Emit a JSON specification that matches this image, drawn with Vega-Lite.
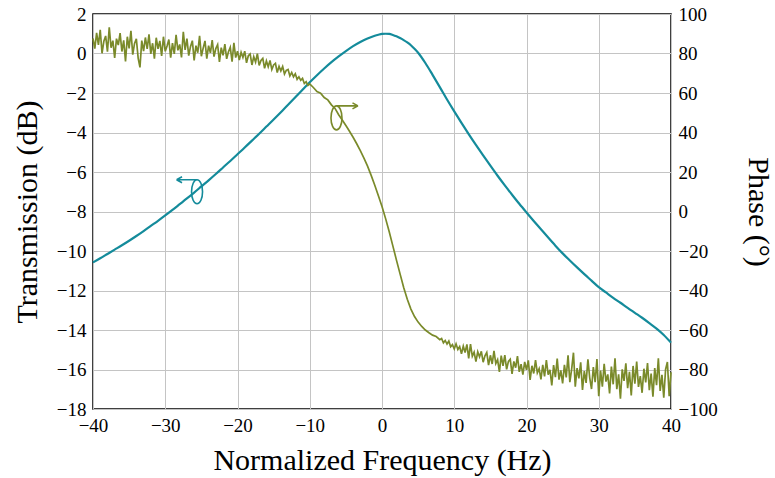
{
  "$schema": "https://vega.github.io/schema/vega-lite/v6.json",
  "width": 578,
  "height": 395,
  "autosize": {"type": "none"},
  "padding": {"left": 93, "top": 14, "right": 104, "bottom": 70},
  "background": "white",
  "config": {
    "font": "Liberation Serif",
    "view": {"stroke": "black", "strokeWidth": 1.5},
    "style": {
      "guide-label": {"font": "Liberation Serif", "fontSize": 19, "fill": "black"},
      "guide-title": {"font": "Liberation Serif", "fontSize": 30, "fontWeight": "normal", "fill": "black"}
    },
    "axis": {
      "ticks": false,
      "domain": false,
      "labelFont": "Liberation Serif",
      "labelFontSize": 19,
      "labelColor": "black",
      "labelPadding": 7,
      "labelFlush": false,
      "labelOverlap": false,
      "titleFont": "Liberation Serif",
      "titleFontSize": 30,
      "titleFontWeight": "normal",
      "titleColor": "black",
      "gridColor": "#c4c4c4",
      "gridWidth": 1
    }
  },
  "datasets": {
    "trans": [
      {"f": -40, "y": -10.58}, {"f": -39, "y": -10.37}, {"f": -38, "y": -10.15}, {"f": -37, "y": -9.93},
      {"f": -36, "y": -9.71}, {"f": -35, "y": -9.48}, {"f": -34, "y": -9.24}, {"f": -33, "y": -8.99},
      {"f": -32, "y": -8.73}, {"f": -31, "y": -8.47}, {"f": -30, "y": -8.2}, {"f": -29, "y": -7.92},
      {"f": -28, "y": -7.63}, {"f": -27, "y": -7.34}, {"f": -26, "y": -7.04}, {"f": -25, "y": -6.73},
      {"f": -24, "y": -6.42}, {"f": -23, "y": -6.1}, {"f": -22, "y": -5.77}, {"f": -21, "y": -5.44},
      {"f": -20, "y": -5.1}, {"f": -19, "y": -4.76}, {"f": -18, "y": -4.41}, {"f": -17, "y": -4.06},
      {"f": -16, "y": -3.7}, {"f": -15, "y": -3.34}, {"f": -14, "y": -2.97}, {"f": -13, "y": -2.6},
      {"f": -12, "y": -2.22}, {"f": -11, "y": -1.84}, {"f": -10, "y": -1.46}, {"f": -9, "y": -1.1},
      {"f": -8, "y": -0.76}, {"f": -7, "y": -0.44}, {"f": -6, "y": -0.15}, {"f": -5, "y": 0.12},
      {"f": -4, "y": 0.37}, {"f": -3, "y": 0.58}, {"f": -2, "y": 0.76}, {"f": -1, "y": 0.9},
      {"f": -0.5, "y": 0.95}, {"f": 0, "y": 0.99}, {"f": 0.5, "y": 1.0}, {"f": 1, "y": 0.99},
      {"f": 1.5, "y": 0.94}, {"f": 2, "y": 0.87}, {"f": 2.5, "y": 0.78}, {"f": 3, "y": 0.68},
      {"f": 3.5, "y": 0.56}, {"f": 4, "y": 0.42}, {"f": 4.5, "y": 0.24}, {"f": 5, "y": 0.04},
      {"f": 6, "y": -0.48}, {"f": 7, "y": -1.08}, {"f": 8, "y": -1.7}, {"f": 9, "y": -2.33},
      {"f": 10, "y": -2.93}, {"f": 11, "y": -3.51}, {"f": 12, "y": -4.08}, {"f": 13, "y": -4.63},
      {"f": 14, "y": -5.16}, {"f": 15, "y": -5.68}, {"f": 16, "y": -6.19}, {"f": 17, "y": -6.68},
      {"f": 18, "y": -7.15}, {"f": 19, "y": -7.61}, {"f": 20, "y": -8.05}, {"f": 21, "y": -8.48},
      {"f": 22, "y": -8.9}, {"f": 23, "y": -9.32}, {"f": 24, "y": -9.73}, {"f": 25, "y": -10.12},
      {"f": 26, "y": -10.48}, {"f": 27, "y": -10.83}, {"f": 28, "y": -11.17}, {"f": 29, "y": -11.5},
      {"f": 30, "y": -11.83}, {"f": 31, "y": -12.1}, {"f": 32, "y": -12.37}, {"f": 33, "y": -12.62},
      {"f": 34, "y": -12.88}, {"f": 35, "y": -13.13}, {"f": 36, "y": -13.38}, {"f": 37, "y": -13.65},
      {"f": 38, "y": -13.93}, {"f": 39, "y": -14.25}, {"f": 40, "y": -14.64}
    ],
    "phase": [
      {"f": -40, "y": 87.6}, {"f": -39.75, "y": 82.5}, {"f": -39.5, "y": 90.4}, {"f": -39.25, "y": 84.4},
      {"f": -39, "y": 92.0}, {"f": -38.75, "y": 80.1}, {"f": -38.5, "y": 86.2}, {"f": -38.25, "y": 88.9},
      {"f": -38, "y": 80.9}, {"f": -37.75, "y": 93.3}, {"f": -37.5, "y": 82.9}, {"f": -37.25, "y": 86.5},
      {"f": -37, "y": 77.8}, {"f": -36.75, "y": 87.5}, {"f": -36.5, "y": 84.3}, {"f": -36.25, "y": 90.3},
      {"f": -36, "y": 81.0}, {"f": -35.75, "y": 86.7}, {"f": -35.5, "y": 76.0}, {"f": -35.25, "y": 88.5},
      {"f": -35, "y": 82.6}, {"f": -34.75, "y": 91.5}, {"f": -34.5, "y": 79.4}, {"f": -34.25, "y": 85.1},
      {"f": -34, "y": 87.4}, {"f": -33.75, "y": 77.7}, {"f": -33.5, "y": 73.0}, {"f": -33.25, "y": 86.5},
      {"f": -33, "y": 81.2}, {"f": -32.75, "y": 88.1}, {"f": -32.5, "y": 82.3}, {"f": -32.25, "y": 89.7},
      {"f": -32, "y": 79.8}, {"f": -31.75, "y": 85.2}, {"f": -31.5, "y": 77.4}, {"f": -31.25, "y": 88.0},
      {"f": -31, "y": 82.4}, {"f": -30.75, "y": 86.4}, {"f": -30.5, "y": 78.8}, {"f": -30.25, "y": 88.5},
      {"f": -30, "y": 81.1}, {"f": -29.75, "y": 83.8}, {"f": -29.5, "y": 87.1}, {"f": -29.25, "y": 77.9},
      {"f": -29, "y": 85.3}, {"f": -28.75, "y": 79.8}, {"f": -28.5, "y": 89.4}, {"f": -28.25, "y": 81.6},
      {"f": -28, "y": 84.6}, {"f": -27.75, "y": 78.0}, {"f": -27.5, "y": 91.0}, {"f": -27.25, "y": 81.8},
      {"f": -27, "y": 87.5}, {"f": -26.75, "y": 78.9}, {"f": -26.5, "y": 83.6}, {"f": -26.25, "y": 86.5},
      {"f": -26, "y": 76.5}, {"f": -25.75, "y": 84.0}, {"f": -25.5, "y": 80.4}, {"f": -25.25, "y": 88.9},
      {"f": -25, "y": 78.6}, {"f": -24.75, "y": 82.7}, {"f": -24.5, "y": 86.4}, {"f": -24.25, "y": 77.4},
      {"f": -24, "y": 84.0}, {"f": -23.75, "y": 80.3}, {"f": -23.5, "y": 86.8}, {"f": -23.25, "y": 78.4},
      {"f": -23, "y": 82.5}, {"f": -22.75, "y": 84.5}, {"f": -22.5, "y": 75.8}, {"f": -22.25, "y": 83.0},
      {"f": -22, "y": 79.1}, {"f": -21.75, "y": 84.8}, {"f": -21.5, "y": 77.3}, {"f": -21.25, "y": 80.9},
      {"f": -21, "y": 83.1}, {"f": -20.75, "y": 75.9}, {"f": -20.5, "y": 85.4}, {"f": -20.25, "y": 77.9},
      {"f": -20, "y": 81.2}, {"f": -19.75, "y": 76.7}, {"f": -19.5, "y": 80.6}, {"f": -19.25, "y": 78.0},
      {"f": -19, "y": 81.2}, {"f": -18.75, "y": 75.3}, {"f": -18.5, "y": 78.9}, {"f": -18.25, "y": 79.8},
      {"f": -18, "y": 74.2}, {"f": -17.75, "y": 78.4}, {"f": -17.5, "y": 75.7}, {"f": -17.25, "y": 79.9},
      {"f": -17, "y": 74.0}, {"f": -16.75, "y": 76.5}, {"f": -16.5, "y": 77.5}, {"f": -16.25, "y": 72.5},
      {"f": -16, "y": 76.2}, {"f": -15.75, "y": 73.3}, {"f": -15.5, "y": 76.5}, {"f": -15.25, "y": 71.9},
      {"f": -15, "y": 74.2}, {"f": -14.75, "y": 75.0}, {"f": -14.5, "y": 70.4}, {"f": -14.25, "y": 73.5},
      {"f": -14, "y": 71.2}, {"f": -13.75, "y": 73.4}, {"f": -13.5, "y": 69.6}, {"f": -13.25, "y": 71.5},
      {"f": -13, "y": 71.9}, {"f": -12.75, "y": 68.6}, {"f": -12.5, "y": 70.4}, {"f": -12.25, "y": 68.2},
      {"f": -12, "y": 69.7}, {"f": -11.75, "y": 66.9}, {"f": -11.5, "y": 68.2}, {"f": -11.25, "y": 66.4},
      {"f": -11, "y": 67.4}, {"f": -10.75, "y": 64.8}, {"f": -10.5, "y": 65.7}, {"f": -10.25, "y": 63.8},
      {"f": -10, "y": 64.6}, {"f": -9.5, "y": 62.8}, {"f": -9, "y": 60.7}, {"f": -8.5, "y": 59.9},
      {"f": -8, "y": 57.7}, {"f": -7.5, "y": 56.5}, {"f": -7, "y": 54.0}, {"f": -6.5, "y": 52.2},
      {"f": -6, "y": 49.0}, {"f": -5.5, "y": 46.3}, {"f": -5, "y": 43.5}, {"f": -4.5, "y": 40.6},
      {"f": -4, "y": 37.6}, {"f": -3.5, "y": 34.3}, {"f": -3, "y": 30.8}, {"f": -2.5, "y": 27.0},
      {"f": -2, "y": 23.0}, {"f": -1.5, "y": 18.3}, {"f": -1, "y": 13.3}, {"f": -0.5, "y": 8.0},
      {"f": 0, "y": 2.5}, {"f": 0.5, "y": -3.6}, {"f": 1, "y": -10.3}, {"f": 1.5, "y": -17.4},
      {"f": 2, "y": -24.6}, {"f": 2.5, "y": -31.6}, {"f": 3, "y": -38.5}, {"f": 3.5, "y": -44.4},
      {"f": 4, "y": -49.4}, {"f": 4.5, "y": -53.2}, {"f": 5, "y": -56.0}, {"f": 5.5, "y": -58.2},
      {"f": 6, "y": -60.0}, {"f": 6.5, "y": -61.4}, {"f": 7, "y": -62.6}, {"f": 7.5, "y": -63.3},
      {"f": 8, "y": -64.9}, {"f": 8.25, "y": -64.3}, {"f": 8.5, "y": -66.5}, {"f": 8.75, "y": -65.3},
      {"f": 9, "y": -67.1}, {"f": 9.25, "y": -65.6}, {"f": 9.5, "y": -68.5}, {"f": 9.75, "y": -67.4},
      {"f": 10, "y": -69.6}, {"f": 10.25, "y": -67.0}, {"f": 10.5, "y": -69.9}, {"f": 10.75, "y": -68.4},
      {"f": 11, "y": -72.0}, {"f": 11.25, "y": -68.2}, {"f": 11.5, "y": -71.4}, {"f": 11.75, "y": -67.3},
      {"f": 12, "y": -74.4}, {"f": 12.25, "y": -67.1}, {"f": 12.5, "y": -73.3}, {"f": 12.75, "y": -71.2},
      {"f": 13, "y": -76.0}, {"f": 13.25, "y": -71.0}, {"f": 13.5, "y": -73.6}, {"f": 13.75, "y": -70.8},
      {"f": 14, "y": -76.3}, {"f": 14.25, "y": -73.1}, {"f": 14.5, "y": -71.4}, {"f": 14.75, "y": -77.8},
      {"f": 15, "y": -72.8}, {"f": 15.25, "y": -77.2}, {"f": 15.5, "y": -70.6}, {"f": 15.75, "y": -77.0},
      {"f": 16, "y": -75.0}, {"f": 16.25, "y": -81.2}, {"f": 16.5, "y": -73.0}, {"f": 16.75, "y": -78.1},
      {"f": 17, "y": -72.7}, {"f": 17.25, "y": -79.9}, {"f": 17.5, "y": -75.9}, {"f": 17.75, "y": -74.8},
      {"f": 18, "y": -82.2}, {"f": 18.25, "y": -75.9}, {"f": 18.5, "y": -79.1}, {"f": 18.75, "y": -73.2},
      {"f": 19, "y": -81.2}, {"f": 19.25, "y": -77.3}, {"f": 19.5, "y": -82.6}, {"f": 19.75, "y": -76.2},
      {"f": 20, "y": -80.2}, {"f": 20.25, "y": -75.4}, {"f": 20.5, "y": -85.3}, {"f": 20.75, "y": -78.1},
      {"f": 21, "y": -82.0}, {"f": 21.25, "y": -75.3}, {"f": 21.5, "y": -81.7}, {"f": 21.75, "y": -79.6},
      {"f": 22, "y": -85.0}, {"f": 22.25, "y": -77.6}, {"f": 22.5, "y": -83.5}, {"f": 22.75, "y": -75.2},
      {"f": 23, "y": -82.6}, {"f": 23.25, "y": -80.2}, {"f": 23.5, "y": -88.1}, {"f": 23.75, "y": -77.8},
      {"f": 24, "y": -83.9}, {"f": 24.25, "y": -74.5}, {"f": 24.5, "y": -85.1}, {"f": 24.75, "y": -80.4},
      {"f": 25, "y": -87.0}, {"f": 25.25, "y": -77.7}, {"f": 25.5, "y": -84.0}, {"f": 25.75, "y": -72.8},
      {"f": 26, "y": -86.4}, {"f": 26.25, "y": -79.8}, {"f": 26.5, "y": -71.5}, {"f": 26.75, "y": -88.7},
      {"f": 27, "y": -79.3}, {"f": 27.25, "y": -84.5}, {"f": 27.5, "y": -76.4}, {"f": 27.75, "y": -90.4},
      {"f": 28, "y": -80.8}, {"f": 28.25, "y": -86.8}, {"f": 28.5, "y": -74.8}, {"f": 28.75, "y": -84.2},
      {"f": 29, "y": -89.9}, {"f": 29.25, "y": -78.8}, {"f": 29.5, "y": -86.4}, {"f": 29.75, "y": -74.7},
      {"f": 30, "y": -93.5}, {"f": 30.25, "y": -80.6}, {"f": 30.5, "y": -88.7}, {"f": 30.75, "y": -77.1},
      {"f": 31, "y": -86.1}, {"f": 31.25, "y": -82.5}, {"f": 31.5, "y": -92.1}, {"f": 31.75, "y": -78.5},
      {"f": 32, "y": -87.5}, {"f": 32.25, "y": -74.3}, {"f": 32.5, "y": -90.0}, {"f": 32.75, "y": -82.4},
      {"f": 33, "y": -94.8}, {"f": 33.25, "y": -79.9}, {"f": 33.5, "y": -85.8}, {"f": 33.75, "y": -76.9},
      {"f": 34, "y": -89.5}, {"f": 34.25, "y": -81.2}, {"f": 34.5, "y": -93.1}, {"f": 34.75, "y": -78.2},
      {"f": 35, "y": -87.2}, {"f": 35.25, "y": -76.0}, {"f": 35.5, "y": -88.8}, {"f": 35.75, "y": -83.3},
      {"f": 36, "y": -91.8}, {"f": 36.25, "y": -79.6}, {"f": 36.5, "y": -86.5}, {"f": 36.75, "y": -76.7},
      {"f": 37, "y": -90.5}, {"f": 37.25, "y": -82.1}, {"f": 37.5, "y": -93.8}, {"f": 37.75, "y": -79.3},
      {"f": 38, "y": -87.9}, {"f": 38.25, "y": -74.3}, {"f": 38.5, "y": -90.8}, {"f": 38.75, "y": -82.7},
      {"f": 39, "y": -94.3}, {"f": 39.25, "y": -80.0}, {"f": 39.5, "y": -76.2}, {"f": 39.75, "y": -93.5},
      {"f": 40, "y": -81.4}
    ],
    "notes": [
      {"f": -25.6, "y": -7.0, "s": "trans"},
      {"f": -6.3, "y": 47.4, "s": "phase"}
    ]
  },
  "encoding": {
    "x": {
      "field": "f",
      "type": "quantitative",
      "scale": {"domain": [-40, 40], "nice": false},
      "axis": {
        "title": "Normalized Frequency (Hz)",
        "values": [-40, -30, -20, -10, 0, 10, 20, 30, 40],
        "grid": true,
        "labelFont": "Liberation Serif",
        "titleFont": "Liberation Serif",
        "titlePadding": 10
      }
    }
  },
  "layer": [
    {
      "encoding": {
        "y": {
          "field": "y",
          "type": "quantitative",
          "scale": {"domain": [-18, 2], "nice": false},
          "axis": {
            "title": "Transmission (dB)",
            "orient": "left",
            "values": [-18, -16, -14, -12, -10, -8, -6, -4, -2, 0, 2],
            "grid": true,
            "labelFont": "Liberation Serif",
            "titleFont": "Liberation Serif",
            "titlePadding": 14
          }
        }
      },
      "layer": [
        {
          "data": {"name": "trans"},
          "mark": {"type": "line", "color": "#148b9b", "strokeWidth": 2.2, "interpolate": "monotone"}
        },
        {
          "data": {"name": "notes"},
          "transform": [{"filter": "datum.s == 'trans'"}],
          "mark": {
            "type": "point",
            "filled": false,
            "color": "#148b9b",
            "strokeWidth": 1.6,
            "opacity": 1,
            "size": 2500,
            "shape": "M0,-0.48 A0.22,0.48 0 1,1 0,0.48 A0.22,0.48 0 1,1 0,-0.48 M0,-0.48 L-0.82,-0.48 M-0.82,-0.48 L-0.6,-0.6 M-0.82,-0.48 L-0.6,-0.36"
          }
        }
      ]
    },
    {
      "encoding": {
        "y": {
          "field": "y",
          "type": "quantitative",
          "scale": {"domain": [-100, 100], "nice": false},
          "axis": {
            "title": "Phase (°)",
            "orient": "right",
            "values": [-100, -80, -60, -40, -20, 0, 20, 40, 60, 80, 100],
            "grid": false,
            "labelFont": "Liberation Serif",
            "titleFont": "Liberation Serif",
            "titlePadding": 25
          }
        }
      },
      "layer": [
        {
          "data": {"name": "phase"},
          "mark": {"type": "line", "color": "#7a8a2a", "strokeWidth": 1.7}
        },
        {
          "data": {"name": "notes"},
          "transform": [{"filter": "datum.s == 'phase'"}],
          "mark": {
            "type": "point",
            "filled": false,
            "color": "#7a8a2a",
            "strokeWidth": 1.6,
            "opacity": 1,
            "size": 2500,
            "shape": "M0,-0.48 A0.22,0.48 0 1,1 0,0.48 A0.22,0.48 0 1,1 0,-0.48 M0,-0.48 L0.86,-0.48 M0.86,-0.48 L0.64,-0.6 M0.86,-0.48 L0.64,-0.36"
          }
        }
      ]
    }
  ],
  "resolve": {"scale": {"y": "independent"}}
}
